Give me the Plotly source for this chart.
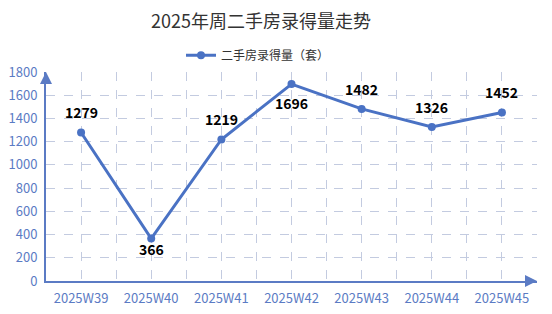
import plotly.graph_objects as go

weeks = ["2025W39", "2025W40", "2025W41", "2025W42", "2025W43", "2025W44", "2025W45"]
volumes = [1279, 366, 1219, 1696, 1482, 1326, 1452]
label_above = [True, False, True, False, True, True, True]
y_ticks = [0, 200, 400, 600, 800, 1000, 1200, 1400, 1600, 1800]

blue = "#4a72c4"
axis_blue = "#5b7bc4"
grid = "#c3cbe0"
font = "Noto Sans CJK SC, Microsoft YaHei, sans-serif"

idx = list(range(len(weeks)))

fig = go.Figure()
fig.add_trace(go.Scatter(
    x=idx, y=volumes, mode="lines+markers",
    name="二手房录得量（套）",
    line=dict(color=blue, width=3),
    marker=dict(color=blue, size=8),
    cliponaxis=False,
))

for i, v, up in zip(idx, volumes, label_above):
    fig.add_annotation(x=i, y=v, text=str(v), showarrow=False,
                       yshift=20 if up else (-10 if v < 500 else -19),
                       font=dict(family=font, size=14, color="#000000", weight="bold"))

fig.update_layout(
    width=552, height=314,
    margin=dict(l=46, r=15, t=72, b=33),
    paper_bgcolor="white", plot_bgcolor="white",
    font=dict(family=font),
    title=dict(text="2025年周二手房录得量走势", xref="container", x=261 / 552, xanchor="center",
               y=1 - 22 / 314, yanchor="middle",
               font=dict(family=font, size=18, color="#333333")),
    showlegend=True,
    legend=dict(orientation="h", x=(258 - 46) / 491, xanchor="center", y=1.08, yanchor="middle",
                font=dict(family=font, size=12, color="#333333"), bgcolor="rgba(0,0,0,0)"),
    xaxis=dict(
        range=[-0.5, len(weeks) - 0.5],
        tickvals=idx, ticktext=weeks,
        tickfont=dict(family=font, size=13, color=axis_blue),
        ticklabelstandoff=4, automargin=False,
        showgrid=True, gridcolor=grid, griddash="dash", gridwidth=1,
        minor=dict(dtick=1, tick0=0.5, showgrid=True, gridcolor=grid, griddash="dash", gridwidth=1),
        showline=True, linecolor=axis_blue, linewidth=2,
        ticks="", zeroline=False, fixedrange=True,
    ),
    yaxis=dict(
        range=[0, 1800], tickvals=y_ticks,
        tickfont=dict(family=font, size=13, color=axis_blue),
        showgrid=True, gridcolor=grid, griddash="dash", gridwidth=1,
        showline=True, linecolor=axis_blue, linewidth=2, automargin=False,
        ticks="", zeroline=False, ticklabelstandoff=4,
    ),
)

# axis arrows
fig.add_annotation(xref="paper", yref="paper", x=0, y=1, ax=0, ay=8, text="",
                   showarrow=True, arrowhead=2, arrowsize=1.2, arrowwidth=2, arrowcolor=axis_blue)
fig.add_annotation(xref="paper", yref="paper", x=1, y=0, ax=-8, ay=0, text="",
                   showarrow=True, arrowhead=2, arrowsize=1.2, arrowwidth=2, arrowcolor=axis_blue)

fig.write_html("out.html")
